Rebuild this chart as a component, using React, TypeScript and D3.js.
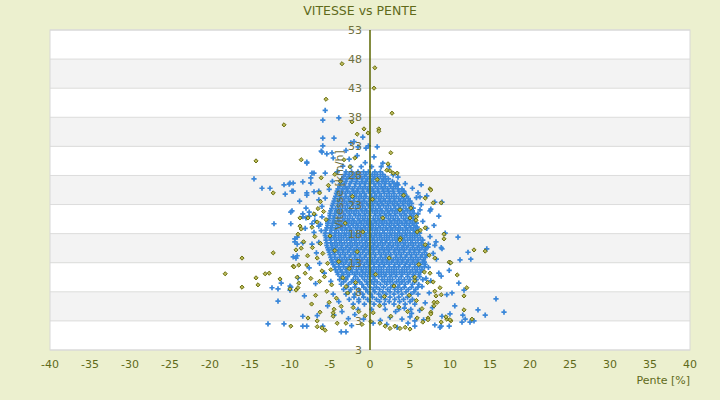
import * as React from 'react'
import * as d3 from 'd3'

// Pente [%], Vitesse [km/h]
const blueSpread: [number, number][] = [
  [-5.6, 39.2], [-5.9, 37.5], [-3.9, 37.9], [-0.9, 34.6], [-5.9, 34.4], [-4.5, 34.4],
  [-7.9, 30.3], [-6.1, 32.2], [-5.4, 31.7], [-4.75, 31.9], [-14.5, 27.4], [-13.5, 25.8],
  [-12.5, 25.8], [-10.75, 26.4], [-10.1, 26.5], [-9.6, 26.7], [-8.4, 26.9], [-9.75, 25.3],
  [-10.6, 24.8], [-7.4, 27.6], [-7.0, 28.4], [-7.25, 28.4], [-7.9, 25.0], [-7.9, 24.6],
  [-7.0, 25.2], [-6.4, 25.3], [-6.4, 23.8], [-9.9, 21.7], [-12, 19.7], [-9.9, 19.7],
  [-8, 22.4], [-7.6, 21.7], [-8.4, 21.4], [-8.4, 20.9], [-7.6, 21.0], [-6.9, 20.2],
  [-7.25, 19.7], [-6.4, 19.3], [-6.1, 18.5], [-9.4, 16.6], [-9.4, 17.1], [-9.1, 16.2],
  [-9.6, 14.0], [-9.1, 14.2], [-9, 10.4], [-12.25, 8.7], [-11.5, 8.5], [-11.1, 9.5],
  [-10, 9.0], [-11.5, 6.4], [-8.4, 2.1], [-12.75, 2.5], [-10.75, 2.5], [-5.9, 33.1],
  [-6, 32.0], [-2.4, 33.6], [-1.5, 32.9], [-0.5, 32.7], [-4.6, 31.0], [-7.9, 30.1],
  [-5.6, 28.4], [-10.0, 26.7], [-9.6, 25.3], [-7.4, 26.7], [2.9, 28.1], [3.4, 26.7],
  [3.5, 26.4], [4.25, 25.2], [6, 25.0], [6.25, 24.3], [7.1, 24.5], [8.1, 23.4], [9, 23.4],
  [7.6, 22.2], [7.5, 21.9], [6.25, 22.1], [5.4, 22.4], [-9.75, 21.9], [-8, 20.7],
  [-6.9, 21.2], [-6, 20.9], [11, 17.4], [9.4, 18.1], [-9.1, 17.4], [-8.4, 16.4],
  [-7.25, 16.2], [-9.25, 13.8], [-9.9, 8.8], [-10, 8.3], [-8.4, 3.8], [-7.9, 2.1],
  [-5.9, 2.1], [-4.5, 4.0], [-3.6, 1.1], [-3, 1.1], [7.25, 15.7], [8.1, 16.0], [9, 15.4],
  [12.25, 14.8], [11.25, 13.5], [12.6, 13.6], [10, 13.0], [9.9, 11.7], [8.6, 11.2],
  [11.1, 9.5], [11.75, 8.3], [13.5, 4.9], [11.5, 2.8], [12.5, 2.8], [13, 3.0], [9.9, 2.1],
  [8.75, 1.9], [10.25, 7.8], [9.6, 7.5], [15.75, 6.8], [14.4, 4.0], [16.75, 4.5],
  [10.6, 5.6], [11.6, 4.0], [11.9, 3.3], [10, 4.2], [9, 3.8], [8.9, 2.1], [8.9, 10.7],
  [4, 3.3], [5, 3.7], [5.6, 2.1], [4.75, 2.6], [5.6, 3.0], [8.1, 2.3], [8.25, 16.6],
  [8.9, 15.6], [14.6, 15.4], [6.8, 13.1], [7.3, 12.2], [7.9, 14.6], [7.0, 10.3], [6.5, 8.9],
  [7.4, 7.8], [6.9, 6.1], [6.2, 4.8], [7.8, 5.3], [5.2, 4.3], [4.3, 5.2], [3.2, 4.6],
  [2.5, 3.6], [1.3, 3.1], [0.4, 2.6], [-0.8, 3.3], [-1.9, 4.1], [-2.7, 3.4], [-3.5, 4.6],
  [-3.9, 6.3], [-4.6, 7.6], [-4.9, 9.8], [-5.7, 11.2], [-6.3, 12.9], [-6.7, 14.7],
  [-6.4, 16.5], [-7.0, 18.2], [-6.2, 19.6], [-6.0, 22.7], [-5.6, 24.1], [-5.1, 25.6],
  [-4.7, 27.0], [-4.1, 28.6], [-3.4, 29.6], [-2.6, 30.8], [-1.6, 31.4], [-0.6, 30.2],
  [0.5, 31.2], [1.6, 30.1], [2.4, 29.5], [3.5, 27.7], [4.4, 26.6], [5.3, 25.8], [5.8, 24.2],
  [6.4, 23.0], [6.0, 21.4], [6.6, 20.1], [7.1, 18.9], [7.5, 17.5], [7.3, 16.2], [8.0, 19.4],
  [8.6, 21.0], [5.9, 19.1], [-2.0, 33.8], [-0.2, 33.1], [0.9, 32.9], [-3.0, 32.3],
  [-6.8, 9.4], [-7.6, 12.1], [-8.2, 7.3], [-5.3, 5.6], [-6.6, 3.9], [-2.3, 2.2], [2.1, 2.4],
  [3.4, 1.9], [6.7, 3.2], [7.6, 9.9], [8.3, 13.6], [6.4, 26.4], [-8.8, 23.6], [-8.1, 18.9],
]

// dense middle of the cloud, one row per speed: [Vitesse, Pente[]]
const blueCoreRows: [number, number[]][] = [
  [29.5, [-2.4, -1.1, 0.2, 1.4]],
  [28.6, [-3.0, -2.3, -1.5, -0.8, -0.2, 0.6, 1.3]],
  [27.8, [-3.3, -2.6, -2.0, -1.3, -0.7, 0.0, 0.6, 1.3, 1.9]],
  [27.0, [-3.6, -3.0, -2.3, -1.7, -1.0, -0.5, 0.2, 0.9, 1.5, 2.0, 2.8]],
  [26.1, [-3.8, -3.1, -2.6, -1.9, -1.2, -0.6, 0.0, 0.7, 1.4, 1.9, 2.6, 3.2]],
  [25.3, [-4.1, -3.5, -2.8, -2.1, -1.6, -0.9, -0.2, 0.4, 1.0, 1.7, 2.3, 2.9, 3.6, 4.2]],
  [24.4, [-4.3, -3.7, -3.0, -2.4, -1.7, -1.1, -0.5, 0.2, 0.8, 1.4, 2.1, 2.7, 3.3, 4.0, 4.6]],
  [23.6, [-4.5, -3.9, -3.2, -2.5, -2.0, -1.3, -0.7, 0.0, 0.6, 1.3, 1.9, 2.5, 3.1, 3.8, 4.4, 5.0]],
  [22.8, [-4.7, -4.0, -3.4, -2.8, -2.1, -1.5, -0.9, -0.2, 0.4, 1.1, 1.7, 2.3, 3.0, 3.6, 4.2, 4.9]],
  [21.9, [-4.9, -4.2, -3.6, -2.9, -2.3, -1.7, -1.0, -0.4, 0.3, 0.9, 1.5, 2.2, 2.8, 3.4, 4.1, 4.7, 5.3]],
  [21.1, [-5.0, -4.4, -3.7, -3.1, -2.5, -1.8, -1.2, -0.6, 0.0, 0.7, 1.3, 2.0, 2.6, 3.2, 3.9, 4.5, 5.2]],
  [20.2, [-5.2, -4.5, -3.9, -3.2, -2.6, -2.0, -1.3, -0.7, -0.1, 0.6, 1.2, 1.8, 2.5, 3.1, 3.7, 4.4, 5.0, 5.6]],
  [19.4, [-5.3, -4.7, -4.0, -3.4, -2.7, -2.1, -1.5, -0.8, -0.2, 0.4, 1.1, 1.7, 2.4, 3.0, 3.6, 4.3, 4.9, 5.5]],
  [18.6, [-5.5, -4.8, -4.2, -3.5, -2.9, -2.3, -1.6, -1.0, -0.3, 0.3, 0.9, 1.6, 2.2, 2.8, 3.5, 4.1, 4.7, 5.4, 6.0]],
  [17.7, [-5.6, -4.9, -4.3, -3.6, -3.0, -2.4, -1.7, -1.1, -0.5, 0.2, 0.8, 1.4, 2.1, 2.7, 3.4, 4.0, 4.6, 5.3, 5.9]],
  [16.9, [-5.5, -4.9, -4.2, -3.6, -2.9, -2.3, -1.7, -1.0, -0.4, 0.3, 0.9, 1.5, 2.1, 2.8, 3.4, 4.1, 4.7, 5.3, 6.0, 6.6]],
  [16.0, [-5.4, -4.7, -4.1, -3.5, -2.8, -2.2, -1.6, -0.9, -0.3, 0.4, 1.0, 1.6, 2.3, 2.9, 3.5, 4.2, 4.8, 5.4, 6.1, 6.7]],
  [15.2, [-5.2, -4.6, -3.9, -3.3, -2.6, -2.0, -1.4, -0.7, -0.1, 0.5, 1.2, 1.8, 2.4, 3.1, 3.7, 4.3, 5.0, 5.6, 6.2, 6.9]],
  [14.4, [-5.0, -4.4, -3.7, -3.1, -2.4, -1.8, -1.2, -0.5, 0.1, 0.7, 1.4, 2.0, 2.6, 3.3, 3.9, 4.6, 5.2, 5.8, 6.5, 7.1]],
  [13.5, [-4.8, -4.1, -3.5, -2.9, -2.2, -1.6, -1.0, -0.3, 0.3, 1.0, 1.6, 2.2, 2.9, 3.5, 4.1, 4.8, 5.4, 6.0, 6.7]],
  [12.7, [-4.6, -3.9, -3.3, -2.6, -2.0, -1.4, -0.7, -0.1, 0.5, 1.2, 1.8, 2.4, 3.1, 3.7, 4.4, 5.0, 5.6, 6.3, 6.9]],
  [11.8, [-4.3, -3.7, -3.0, -2.4, -1.7, -1.1, -0.5, 0.2, 0.8, 1.4, 2.1, 2.7, 3.3, 4.0, 4.6, 5.3, 5.9, 6.5]],
  [11.0, [-4.0, -3.3, -2.6, -1.9, -1.3, -0.6, 0.1, 0.7, 1.4, 2.0, 2.7, 3.3, 4.0, 4.7, 5.4, 6.1]],
  [10.1, [-3.8, -3.0, -2.1, -1.5, -0.7, 0.0, 0.6, 1.5, 2.2, 2.8, 3.6, 4.3, 5.0, 5.8, 6.6]],
  [9.3, [-3.6, -2.7, -1.8, -1.0, -0.3, 0.5, 1.3, 2.1, 2.9, 3.7, 4.4, 5.3, 6.1]],
  [8.4, [-3.3, -2.4, -1.4, -0.5, 0.4, 1.2, 2.2, 3.1, 3.9, 4.8, 5.7]],
  [7.6, [-3.0, -1.9, -0.9, 0.1, 1.1, 2.0, 3.0, 4.0, 5.1, 6.0]],
  [6.7, [-2.6, -1.4, -0.3, 0.8, 1.9, 3.1, 4.2, 5.3]],
  [5.9, [-2.1, -0.7, 0.5, 1.8, 3.0, 4.4, 5.6]],
  [5.0, [-1.5, 0.2, 1.9, 3.6, 5.1]],
]

// second pass over the same dense middle, between the rows above
const blueCoreRowsB: [number, number[]][] = [
  [28.2, [-3.1, -2.6, -1.9, -1.2, -0.5, 0.3, 0.9, 1.6]],
  [27.4, [-3.5, -2.9, -2.2, -1.6, -1.0, -0.3, 0.4, 1.0, 1.7, 2.3]],
  [26.6, [-3.7, -3.2, -2.5, -1.8, -1.3, -0.7, -0.1, 0.5, 1.1, 1.8, 2.4, 3.0]],
  [25.7, [-4.0, -3.4, -2.9, -2.2, -1.5, -0.9, -0.3, 0.3, 1.0, 1.6, 2.2, 2.9, 3.5, 4.0]],
  [24.9, [-4.2, -3.6, -3.1, -2.5, -1.9, -1.3, -0.7, 0.0, 0.6, 1.2, 1.8, 2.4, 3.0, 3.7, 4.3]],
  [24.0, [-4.4, -3.8, -3.3, -2.7, -2.0, -1.4, -0.8, -0.1, 0.5, 1.1, 1.7, 2.4, 3.0, 3.6, 4.2, 4.8]],
  [23.2, [-4.6, -4.0, -3.5, -2.9, -2.3, -1.6, -1.0, -0.4, 0.3, 0.9, 1.5, 2.2, 2.8, 3.4, 4.1, 4.7, 5.2]],
  [22.3, [-4.8, -4.3, -3.7, -3.1, -2.5, -1.8, -1.2, -0.6, 0.1, 0.7, 1.3, 2.0, 2.6, 3.2, 3.8, 4.5, 5.1]],
  [21.5, [-5.0, -4.4, -3.9, -3.3, -2.6, -2.0, -1.4, -0.7, -0.1, 0.6, 1.2, 1.8, 2.4, 3.1, 3.7, 4.3, 5.0, 5.5]],
  [20.6, [-5.1, -4.6, -4.0, -3.4, -2.8, -2.2, -1.5, -0.9, -0.3, 0.4, 1.0, 1.6, 2.3, 2.9, 3.5, 4.2, 4.8, 5.4]],
  [19.8, [-5.3, -4.7, -4.2, -3.6, -2.9, -2.3, -1.7, -1.1, -0.4, 0.2, 0.8, 1.5, 2.1, 2.7, 3.4, 4.0, 4.6, 5.3, 5.8]],
  [19.0, [-5.4, -4.9, -4.3, -3.7, -3.1, -2.5, -1.8, -1.2, -0.6, 0.1, 0.7, 1.3, 2.0, 2.6, 3.2, 3.8, 4.5, 5.1, 5.7]],
  [18.1, [-5.6, -5.0, -4.4, -3.9, -3.2, -2.6, -2.0, -1.3, -0.7, -0.1, 0.6, 1.2, 1.8, 2.5, 3.1, 3.7, 4.4, 5.0, 5.6, 6.2]],
  [17.3, [-5.5, -5.0, -4.5, -3.9, -3.3, -2.6, -2.0, -1.4, -0.7, -0.1, 0.5, 1.2, 1.8, 2.4, 3.1, 3.7, 4.3, 5.0, 5.6, 6.3]],
  [16.4, [-5.4, -4.9, -4.4, -3.8, -3.2, -2.5, -1.9, -1.3, -0.6, 0.0, 0.6, 1.3, 1.9, 2.5, 3.2, 3.8, 4.4, 5.1, 5.7, 6.4]],
  [15.6, [-5.3, -4.8, -4.3, -3.6, -3.0, -2.4, -1.7, -1.1, -0.5, 0.2, 0.8, 1.5, 2.1, 2.7, 3.4, 4.0, 4.6, 5.3, 5.9, 6.5, 7.0]],
  [14.8, [-5.1, -4.6, -4.0, -3.4, -2.8, -2.1, -1.5, -0.9, -0.2, 0.4, 1.1, 1.7, 2.3, 3.0, 3.6, 4.2, 4.9, 5.5, 6.1, 6.8]],
  [13.9, [-4.9, -4.4, -3.8, -3.2, -2.6, -1.9, -1.3, -0.7, 0.0, 0.6, 1.3, 1.9, 2.5, 3.2, 3.8, 4.4, 5.1, 5.7, 6.3, 6.9]],
  [13.1, [-4.7, -4.2, -3.6, -3.0, -2.3, -1.7, -1.1, -0.4, 0.2, 0.8, 1.5, 2.1, 2.7, 3.4, 4.0, 4.6, 5.3, 5.9, 6.6]],
  [12.3, [-4.4, -3.9, -3.3, -2.7, -2.1, -1.4, -0.8, -0.2, 0.5, 1.1, 1.7, 2.4, 3.0, 3.6, 4.3, 4.9, 5.6, 6.2, 6.8]],
  [11.4, [-4.1, -3.5, -2.9, -2.2, -1.6, -0.9, -0.2, 0.4, 1.1, 1.7, 2.4, 3.0, 3.7, 4.3, 5.0, 5.7, 6.3]],
  [10.6, [-3.6, -2.8, -1.8, -1.0, -0.3, 0.4, 1.1, 1.8, 2.5, 3.2, 3.9, 4.7, 5.4, 6.2]],
  [9.7, [-3.3, -2.3, -1.3, -0.4, 0.2, 0.9, 1.8, 2.5, 3.3, 4.0, 4.8, 5.6]],
  [8.8, [-2.9, -1.9, -0.8, 0.0, 0.8, 1.7, 2.6, 3.5, 4.3, 5.2, 6.0]],
  [8.0, [-2.6, -1.3, -0.3, 0.6, 1.6, 2.5, 3.5, 4.5, 5.5]],
  [7.1, [-2.0, -0.8, 0.3, 1.4, 2.5, 3.6, 4.7]],
  [6.3, [-1.4, 0.0, 1.2, 2.4, 3.7, 5.0]],
]

const oliveSpread: [number, number][] = [
  [-3.5, 47.2], [0.6, 46.5], [0.5, 43.0], [-5.5, 41.1], [2.75, 38.7], [-2.25, 37.2],
  [-0.75, 36.0], [1.1, 36.0], [-1.6, 35.1], [-0.25, 35.3], [1.1, 35.6], [-10.75, 36.7],
  [-14.25, 30.5], [-8.6, 30.7], [-12.1, 25.0], [-1.9, 31.0], [-3.25, 30.7], [-2.5, 29.5],
  [2.6, 31.9], [2.25, 30.0], [2.1, 28.9], [2.5, 28.8], [2.9, 28.4], [3.4, 28.4], [7.5, 25.7],
  [6.9, 24.1], [7.9, 23.3], [8.9, 23.3], [7.6, 25.5], [-8.75, 19.3], [-8.6, 18.8],
  [-9.0, 17.9], [-8.75, 20.7], [-7.75, 20.7], [-6.6, 20.0], [-7.25, 19.1], [-8.6, 15.5],
  [-9.25, 15.2], [-16, 13.8], [-12.1, 14.7], [-9.6, 12.4], [-18.1, 11.1], [-14.25, 10.4],
  [-13.1, 11.1], [-12.6, 11.2], [-11.25, 10.2], [-10, 8.5], [-16, 8.8], [-14, 9.2],
  [-9.9, 2.1], [-7.75, 3.5], [-6.6, 3.0], [-6.25, 4.5], [9.25, 17.9], [9.25, 17.1],
  [13, 15.2], [14.4, 15.0], [10.9, 10.9], [12.1, 8.7], [11.75, 7.3], [8.75, 8.7], [8.9, 7.5],
  [11.75, 4.9], [12.75, 3.3], [9.6, 3.3], [10.1, 3.0], [8.1, 8.1], [8.25, 7.3], [8.0, 6.2],
  [7.6, 4.5], [7.6, 4.2], [9.9, 13.1], [10.1, 13.0], [-9.5, 12.3], [-8.9, 12.6], [-7.9, 12.6],
  [-8.1, 11.2], [-9.1, 10.5], [-8.9, 9.5], [-9.25, 8.3], [-9.0, 8.7], [-6.6, 2.0], [-6.0, 1.8],
  [-5.6, 1.4], [-4.6, 4.4], [-4.6, 3.8], [-4.1, 2.6], [-3.0, 2.6], [1.25, 2.6], [1.9, 2.1],
  [2.5, 1.7], [3.1, 2.1], [3.75, 1.7], [4.4, 1.9], [5.0, 1.6], [10, 3.2], [9.5, 3.7],
  [8.9, 2.8], [8.0, 5.6], [8.4, 6.2], [7.25, 3.5], [7.25, 3.2],
]

const oliveCore: [number, number][] = [
  [-6.2, 23.5], [-5.8, 21.8], [-6.5, 22.3], [-5.5, 20.4], [-6.9, 17.5], [-6.2, 16.3],
  [-5.9, 14.6], [-6.6, 13.8], [-5.3, 12.9], [-7.2, 15.6], [-4.9, 11.8], [-5.7, 10.6],
  [-6.3, 9.8], [-4.8, 9.2], [-5.4, 8.1], [-6.8, 7.4], [-4.2, 6.9], [-5.1, 6.2], [-3.6, 5.5],
  [-4.5, 5.0], [-7.4, 10.3], [-6.0, 11.6], [-3.9, 13.2], [-4.4, 15.1], [-3.4, 10.4],
  [-2.8, 7.8], [-2.1, 5.3], [-1.4, 4.6], [-0.6, 3.9], [0.4, 4.4], [1.2, 5.6], [-2.6, 12.0],
  [-1.8, 9.6], [-7.8, 14.2], [-8.3, 16.6], [-7.0, 21.4], [-6.3, 25.0], [-5.2, 26.3],
  [-4.4, 28.2], [-3.7, 27.0], [4.2, 24.6], [5.1, 22.4], [5.8, 20.9], [6.3, 18.6], [6.9, 16.1],
  [7.4, 14.3], [6.1, 12.7], [6.8, 11.4], [5.6, 9.9], [7.2, 9.6], [4.9, 7.4], [5.8, 6.5],
  [3.6, 5.4], [4.7, 4.6], [6.5, 5.1], [3.0, 9.0], [2.4, 13.8], [3.8, 17.2], [1.6, 20.7],
  [0.3, 23.9], [-0.9, 18.3], [-1.6, 14.9], [0.7, 11.0], [1.8, 7.2], [2.6, 3.8], [0.1, 2.9],
  [-1.0, 2.4], [5.9, 3.5], [6.6, 2.8], [3.75, 22.1], [5.0, 20.7], [5.75, 20.3], [6.9, 19.0],
  [5.9, 18.3], [3.75, 16.9], [8.1, 13.8], [7.5, 11.2], [5.6, 10.5], [7.9, 9.7], [-7.3, 5.9],
  [-5.0, 17.6], [-3.1, 19.8], [-2.2, 24.4], [0.9, 27.3], [-6.1, 27.6], [-3.0, 8.9],
]

const yTicks = [-2, 3, 8, 13, 18, 23, 28, 33, 38, 43, 48, 53]
const yTickLabels = ['3', '3', '8', '13', '18', '23', '28', '33', '38', '43', '48', '53']
const xTicks = [-40, -35, -30, -25, -20, -15, -10, -5, 0, 5, 10, 15, 20, 25, 30, 35, 40]

const W = 720
const H = 400
const margin = { top: 30, right: 30, bottom: 50, left: 50 }
const font = 'DejaVu Sans, Verdana, sans-serif'

const App = () => {
  const x = d3.scaleLinear().domain([-40, 40]).range([margin.left, W - margin.right])
  const y = d3.scaleLinear().domain([-2, 53]).range([H - margin.bottom, margin.top])

  const rowsToPoints = (rows: [number, number[]][]) =>
    rows.flatMap(([v, ps]) => ps.map(p => [p, v] as [number, number]))
  const blue: [number, number][] = blueSpread
    .concat(rowsToPoints(blueCoreRows))
    .concat(rowsToPoints(blueCoreRowsB))
  const olive = oliveSpread.concat(oliveCore)

  const plus = d3.symbol().type(d3.symbolCross).size(15)()
  const diamond = 'M0,-2.1L2.1,0L0,2.1L-2.1,0Z'

  return (
    <svg width={W} height={H} style={{ position: 'absolute', left: 0, top: 0 }}>
      <rect width={W} height={H} fill="#ecf0cf" />
      {/* stripes */}
      {yTicks.slice(0, -1).map((t, i) => (
        <rect key={t} x={x(-40)} width={x(40) - x(-40)}
          y={y(t + 5)} height={y(t) - y(t + 5)}
          fill={(yTicks.length - 2 - i) % 2 === 0 ? '#ffffff' : '#f3f3f3'} />
      ))}
      {yTicks.map(t => (
        <line key={t} x1={x(-40)} x2={x(40)} y1={y(t)} y2={y(t)} stroke="#dcdcdc" strokeWidth={1} />
      ))}
      <rect x={x(-40)} y={y(53)} width={x(40) - x(-40)} height={y(-2) - y(53)}
        fill="none" stroke="#d8d8d8" strokeWidth={1} />

      <g>
        {blue.map((d, i) => (
          <path key={i} d={plus ?? ''} transform={`translate(${x(d[0])},${y(d[1])})`}
            fill="#3a87d9" />
        ))}
      </g>
      <g>
        {olive.map((d, i) => (
          <path key={i} d={diamond} transform={`translate(${x(d[0])},${y(d[1])})`}
            fill="#b9b85a" stroke="#5f6400" strokeWidth={0.9} />
        ))}
      </g>

      <line x1={x(0)} x2={x(0)} y1={y(53)} y2={y(-2)} stroke="#5b6600" strokeWidth={1.5} />

      {yTicks.map((t, i) => (
        <text key={t} x={x(0) - 8} y={y(t)} dy="0.36em" textAnchor="end"
          fontFamily={font} fontSize={11} fill="#6f7040">{yTickLabels[i]}</text>
      ))}
      <text transform={`translate(${x(0) - 31},${(y(53) + y(-2)) / 2}) rotate(-90)`}
        textAnchor="middle" dy="0.36em" fontFamily={font} fontSize={11} fill="#6f7040">
        Vitesse [km/h]
      </text>

      {xTicks.map(t => (
        <text key={t} x={x(t)} y={368} textAnchor="middle"
          fontFamily={font} fontSize={11} fill="#5f6a1a">{t}</text>
      ))}
      <text x={x(40)} y={384} textAnchor="end" fontFamily={font} fontSize={11} fill="#5f6a1a">
        Pente [%]
      </text>
      <text x={W / 2} y={15} textAnchor="middle" fontFamily={font} fontSize={12.5} fill="#5f6a1a">
        VITESSE vs PENTE
      </text>
    </svg>
  )
}

export default App
